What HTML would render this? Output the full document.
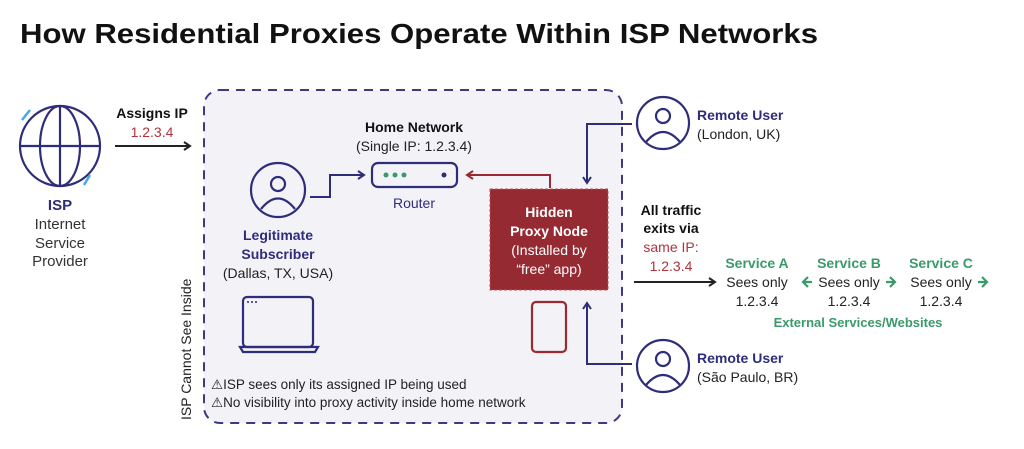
<!DOCTYPE html>
<html><head><meta charset="utf-8"><style>
html,body{margin:0;padding:0;background:#fff;}
svg{display:block;font-family:"Liberation Sans","DejaVu Sans",sans-serif;}
</style></head><body>
<svg width="1024" height="449" viewBox="0 0 1024 449" xmlns="http://www.w3.org/2000/svg">
<defs>
<marker id="ab" markerWidth="10" markerHeight="10" refX="8" refY="5" orient="auto" markerUnits="userSpaceOnUse"><path d="M2,1 L8,5 L2,9" fill="none" stroke="#222" stroke-width="2"/></marker>
<marker id="an" markerWidth="10" markerHeight="10" refX="8" refY="5" orient="auto" markerUnits="userSpaceOnUse"><path d="M2,1 L8,5 L2,9" fill="none" stroke="#2e2d7a" stroke-width="2"/></marker>
<marker id="ar" markerWidth="10" markerHeight="10" refX="8" refY="5" orient="auto" markerUnits="userSpaceOnUse"><path d="M2,1 L8,5 L2,9" fill="none" stroke="#9a2a32" stroke-width="2"/></marker>
</defs>
<text x="20" y="43" font-size="28" font-weight="bold" fill="#111" textLength="798" lengthAdjust="spacingAndGlyphs">How Residential Proxies Operate Within ISP Networks</text>

<rect x="204" y="90" width="418" height="333" rx="16" fill="#f2f2f7" stroke="#3b3a82" stroke-width="2" stroke-dasharray="9,7"/>

<g fill="none" stroke="#2e2d7a" stroke-width="2.2">
<circle cx="60" cy="146" r="40"/><ellipse cx="60" cy="146" rx="20" ry="40"/><line x1="20" y1="146" x2="100" y2="146"/><line x1="60" y1="106" x2="60" y2="186"/>
</g>
<path d="M22,120 L30,110 M90,175 L84,185" stroke="#4aa8e8" stroke-width="2.5"/>
<g text-anchor="middle" font-size="15" fill="#333">
<text x="60" y="210" font-weight="bold" fill="#2e2d7a">ISP</text>
<text x="60" y="229">Internet</text><text x="60" y="248">Service</text><text x="60" y="266">Provider</text>
</g>
<line x1="115" y1="146" x2="190" y2="146" stroke="#222" stroke-width="2" marker-end="url(#ab)"/>
<text x="152" y="118" text-anchor="middle" font-size="14" font-weight="bold" fill="#111">Assigns IP</text>
<text x="152" y="137" text-anchor="middle" font-size="14" fill="#b0343c">1.2.3.4</text>

<g fill="none" stroke="#2e2d7a" stroke-width="2.2">
<circle cx="278" cy="190" r="27"/><circle cx="278" cy="184" r="7"/><path d="M261,209 Q278,188 295,209"/>
</g>
<g text-anchor="middle" font-size="14">
<text x="278" y="240" font-weight="bold" fill="#2e2d7a">Legitimate</text>
<text x="278" y="259" font-weight="bold" fill="#2e2d7a">Subscriber</text>
<text x="278" y="278" fill="#222">(Dallas, TX, USA)</text>
</g>
<polyline points="310,197 330,197 330,175 364,175" fill="none" stroke="#2e2d7a" stroke-width="2" marker-end="url(#an)"/>
<rect x="372" y="163" width="85" height="24" rx="6" fill="none" stroke="#2e2d7a" stroke-width="2.2"/>
<circle cx="386" cy="175" r="2.5" fill="#3a9a6a"/><circle cx="395" cy="175" r="2.5" fill="#3a9a6a"/><circle cx="404" cy="175" r="2.5" fill="#3a9a6a"/><circle cx="444" cy="175" r="2.5" fill="#2e2d7a"/>
<text x="414" y="208" text-anchor="middle" font-size="14" fill="#2e2d7a">Router</text>
<text x="414" y="132" text-anchor="middle" font-size="14" font-weight="bold" fill="#111">Home Network</text>
<text x="414" y="151" text-anchor="middle" font-size="14" fill="#222">(Single IP: 1.2.3.4)</text>
<polyline points="550,188 550,175 467,175" fill="none" stroke="#9a2a32" stroke-width="2" marker-end="url(#ar)"/>

<rect x="490" y="189" width="118" height="101" fill="#962a32" stroke="#c05058" stroke-dasharray="3,2"/>
<g text-anchor="middle" font-size="14" fill="#fff">
<text x="549" y="217" font-weight="bold">Hidden</text>
<text x="549" y="236" font-weight="bold">Proxy Node</text>
<text x="549" y="255">(Installed by</text>
<text x="549" y="274">“free” app)</text>
</g>
<rect x="532" y="302" width="34" height="50" rx="4" fill="none" stroke="#9a2a32" stroke-width="2.2"/>

<g fill="none" stroke="#2e2d7a" stroke-width="2.2">
<rect x="243" y="297" width="70" height="50" rx="4"/><path d="M240,347 L318,347 L315,352 L243,352 Z"/>
</g>
<circle cx="248" cy="302" r="1" fill="#2e2d7a"/><circle cx="252" cy="302" r="1" fill="#2e2d7a"/><circle cx="256" cy="302" r="1" fill="#2e2d7a"/>

<g font-size="13.5" fill="#222">
<text x="211" y="389">⚠ISP sees only its assigned IP being used</text>
<text x="211" y="407">⚠No visibility into proxy activity inside home network</text>
</g>
<text transform="translate(191,420) rotate(-90)" font-size="14" fill="#222">ISP Cannot See Inside</text>

<g fill="none" stroke="#2e2d7a" stroke-width="2.2">
<circle cx="663" cy="123" r="26"/><circle cx="663" cy="116" r="7"/><path d="M646,142 Q663,122 680,142"/>
<circle cx="663" cy="366" r="26"/><circle cx="663" cy="359" r="7"/><path d="M646,385 Q663,365 680,385"/>
</g>
<polyline points="632,124 587,124 587,183" fill="none" stroke="#2e2d7a" stroke-width="2" marker-end="url(#an)"/>
<polyline points="632,364 587,364 587,303" fill="none" stroke="#2e2d7a" stroke-width="2" marker-end="url(#an)"/>
<g font-size="14">
<text x="697" y="120" font-weight="bold" fill="#2e2d7a">Remote User</text>
<text x="697" y="139" fill="#222">(London, UK)</text>
<text x="697" y="363" font-weight="bold" fill="#2e2d7a">Remote User</text>
<text x="697" y="382" fill="#222">(São Paulo, BR)</text>
</g>

<g text-anchor="middle" font-size="14">
<text x="671" y="215" font-weight="bold" fill="#111">All traffic</text>
<text x="671" y="233" font-weight="bold" fill="#111">exits via</text>
<text x="671" y="252" fill="#b0343c">same IP:</text>
<text x="671" y="271" fill="#b0343c">1.2.3.4</text>
</g>
<line x1="634" y1="282" x2="715" y2="282" stroke="#222" stroke-width="2" marker-end="url(#ab)"/>

<g text-anchor="middle" font-size="14">
<text x="757" y="268" font-weight="bold" fill="#3a9a6a">Service A</text>
<text x="849" y="268" font-weight="bold" fill="#3a9a6a">Service B</text>
<text x="941" y="268" font-weight="bold" fill="#3a9a6a">Service C</text>
<text x="757" y="287" fill="#222">Sees only</text>
<text x="849" y="287" fill="#222">Sees only</text>
<text x="941" y="287" fill="#222">Sees only</text>
<text x="757" y="306" fill="#222">1.2.3.4</text>
<text x="849" y="306" fill="#222">1.2.3.4</text>
<text x="941" y="306" fill="#222">1.2.3.4</text>
<text x="858" y="327" font-weight="bold" fill="#3a9a6a" font-size="13">External Services/Websites</text>
</g>
<g fill="none" stroke="#3a9a6a" stroke-width="2.2">
<path d="M808,277 L803,282 L808,287 M803,282 L812,282"/>
<path d="M890,277 L895,282 L890,287 M886,282 L895,282"/>
<path d="M982,277 L987,282 L982,287 M978,282 L987,282"/>
</g>
</svg>
</body></html>
